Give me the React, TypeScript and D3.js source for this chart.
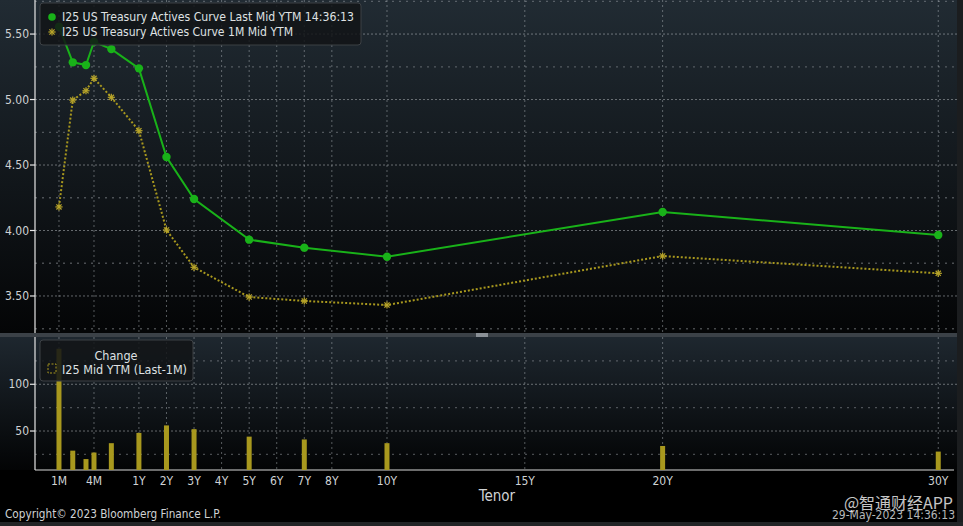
import React from 'react';
import * as d3 from 'd3';

// ---- data ----
const tenors = ['1M', '2M', '3M', '4M', '6M', '1Y', '2Y', '3Y', '5Y', '7Y', '10Y', '20Y', '30Y'];
// position of each tenor on the chart's tenor axis (year-equivalent units)
const tenorAxisPos = [-1.9, -1.4, -0.92, -0.63, 0, 1, 2, 3, 5, 7, 10, 20, 30];
const lastYield = [5.556, 5.284, 5.263, 5.441, 5.385, 5.238, 4.561, 4.24, 3.93, 3.869, 3.8, 4.141, 3.966];
const monthAgoYield = [4.18, 4.996, 5.067, 5.162, 5.017, 4.762, 4.004, 3.719, 3.492, 3.462, 3.431, 3.805, 3.673];
const changeBp = [138, 29, 20, 27, 37, 48, 56, 52, 44, 41, 37, 34, 28];

const xTickLabels = ['1M', '4M', '1Y', '2Y', '3Y', '4Y', '5Y', '6Y', '7Y', '8Y', '10Y', '15Y', '20Y', '30Y'];
const xTickPos = [-1.9, -0.63, 1, 2, 3, 4, 5, 6, 7, 8, 10, 15, 20, 30];
const topTickValues = [3.5, 4.0, 4.5, 5.0, 5.5];
const topMinorGridValues = [3.25, 3.75, 4.25, 4.75, 5.25, 5.75];
const bottomTickValues = [50, 100];
const bottomMinorGridValues = [25, 75, 125];

const legendTop = ['I25 US Treasury Actives Curve Last Mid YTM 14:36:13', 'I25 US Treasury Actives Curve 1M Mid YTM'];
const legendBottomTitle = 'Change';
const legendBottom = 'I25 Mid YTM (Last-1M)';
const xAxisTitle = 'Tenor';
const copyright = 'Copyright\u00A9 2023 Bloomberg Finance L.P.';
const stamp = '29-May-2023 14:36:13';
const watermark = '@智通财经APP';

// ---- layout ----
const W = 963;
const H = 526;
const L = 35;
const R = 957;
const topT = 0;
const topB = 333;
const botT = 337;
const botB = 470;

const GREEN = '#19b219';
const YELLOW = '#a8981e';
const GRID_MAJOR = 'rgba(190,195,200,0.5)';
const GRID_MINOR = 'rgba(170,175,180,0.4)';
const GRID_V = 'rgba(185,190,195,0.45)';
const TXT = '#cfd2d4';
const FONT = '"Liberation Sans Narrow", "DejaVu Sans Condensed", "Liberation Sans", Arial, sans-serif';

export default function App() {
  const x = d3.scaleLinear().domain([-2.77, 30.68]).range([L, R]);
  const yTop = d3.scaleLinear().domain([3.225, 5.76]).range([332, topT]);
  const yBot = d3.scaleLinear().domain([8.3, 149.5]).range([botB, 338]);

  const idx = d3.range(tenors.length);
  const lineLast = d3.line<number>().x((i) => x(tenorAxisPos[i])).y((i) => yTop(lastYield[i]))(idx) || '';
  const lineMonth = d3.line<number>().x((i) => x(tenorAxisPos[i])).y((i) => yTop(monthAgoYield[i]))(idx) || '';

  const star = (cx: number, cy: number, k: number) => {
    const r = 3.6;
    return (
      <g key={'s' + k} stroke="#b8a52a" strokeWidth={1.2}>
        <line x1={cx - r} y1={cy} x2={cx + r} y2={cy} />
        <line x1={cx} y1={cy - r} x2={cx} y2={cy + r} />
        <line x1={cx - r * 0.72} y1={cy - r * 0.72} x2={cx + r * 0.72} y2={cy + r * 0.72} />
        <line x1={cx - r * 0.72} y1={cy + r * 0.72} x2={cx + r * 0.72} y2={cy - r * 0.72} />
      </g>
    );
  };

  return (
    <svg
      width={W}
      height={H}
      style={{ position: 'fixed', left: 0, top: 0, display: 'block' }}
      fontFamily={FONT}
    >
      <defs>
        <linearGradient id="gTop" x1="0" y1="0" x2="0" y2="1">
          <stop offset="0" stopColor="#212b33" />
          <stop offset="1" stopColor="#040506" />
        </linearGradient>
        <linearGradient id="gBot" x1="0" y1="0" x2="0" y2="1">
          <stop offset="0" stopColor="#1e272f" />
          <stop offset="1" stopColor="#030405" />
        </linearGradient>
      </defs>
      <rect x={0} y={0} width={W} height={H} fill="#000" />
      <rect x={0} y={topT} width={R} height={topB - topT} fill="url(#gTop)" />
      <rect x={0} y={botT} width={R} height={botB - botT} fill="url(#gBot)" />
      {/* frame */}
      <rect x={R} y={0} width={W - R} height={H} fill="#1b1d1f" />
      <rect x={0} y={H - 4} width={W} height={4} fill="#222426" />
      <rect x={0} y={topB} width={R} height={botT - topB} fill="#3b4147" />
      <rect x={476} y={topB} width={12} height={botT - topB} fill="#8a9096" />

      {/* top grid */}
      {topMinorGridValues.map((v) => (
        <line key={'tm' + v} x1={L} x2={R} y1={yTop(v)} y2={yTop(v)} stroke={GRID_MINOR} strokeDasharray="2,5" strokeWidth={1.3} />
      ))}
      {topTickValues.map((v) => (
        <line key={'tg' + v} x1={L} x2={R} y1={yTop(v)} y2={yTop(v)} stroke={GRID_MAJOR} strokeDasharray="2,2" />
      ))}
      {xTickPos.map((p) => (
        <line key={'tv' + p} x1={x(p)} x2={x(p)} y1={topT} y2={topB} stroke={GRID_V} strokeDasharray="2,3" />
      ))}
      {/* bottom grid */}
      {bottomMinorGridValues.map((v) => (
        <line key={'bm' + v} x1={L} x2={R} y1={yBot(v)} y2={yBot(v)} stroke={GRID_MINOR} strokeDasharray="2,5" strokeWidth={1.3} />
      ))}
      {bottomTickValues.map((v) => (
        <line key={'bg' + v} x1={L} x2={R} y1={yBot(v)} y2={yBot(v)} stroke={GRID_MAJOR} strokeDasharray="2,2" />
      ))}
      {xTickPos.map((p) => (
        <line key={'bv' + p} x1={x(p)} x2={x(p)} y1={botT} y2={botB} stroke={GRID_V} strokeDasharray="2,3" />
      ))}

      {/* axes */}
      <line x1={L} x2={L} y1={topT} y2={topB} stroke="#e6e6e6" strokeWidth={1.2} />
      <line x1={L} x2={L} y1={botT} y2={botB} stroke="#e6e6e6" strokeWidth={1.2} />
      <line x1={L} x2={R - 3} y1={botB} y2={botB} stroke="#d8d8d8" strokeWidth={1.2} />
      {topTickValues.map((v) => (
        <g key={'tt' + v}>
          <line x1={L - 5} x2={L} y1={yTop(v)} y2={yTop(v)} stroke="#e6e6e6" strokeWidth={1.2} />
          <text x={L - 6} y={yTop(v) + 4} textAnchor="end" fontSize={12} fill={TXT}>
            {v.toFixed(2)}
          </text>
        </g>
      ))}
      {bottomTickValues.map((v) => (
        <g key={'bt' + v}>
          <line x1={L - 5} x2={L} y1={yBot(v)} y2={yBot(v)} stroke="#e6e6e6" strokeWidth={1.2} />
          <text x={L - 6} y={yBot(v) + 4} textAnchor="end" fontSize={12} fill={TXT}>
            {v}
          </text>
        </g>
      ))}
      {xTickLabels.map((t, i) => (
        <text key={'xl' + t} x={x(xTickPos[i])} y={botB + 15} textAnchor="middle" fontSize={12} fill={TXT}>
          {t}
        </text>
      ))}
      <text x={497} y={501} textAnchor="middle" fontSize={15} fill={TXT}>
        {xAxisTitle}
      </text>

      {/* bars */}
      {idx.map((i) => (
        <rect
          key={'b' + i}
          x={x(tenorAxisPos[i]) - 2.5}
          y={yBot(changeBp[i])}
          width={5}
          height={botB - yBot(changeBp[i])}
          fill={YELLOW}
        />
      ))}

      {/* lines */}
      <path d={lineMonth} fill="none" stroke={YELLOW} strokeWidth={2} strokeDasharray="2,2" />
      {idx.map((i) => star(x(tenorAxisPos[i]), yTop(monthAgoYield[i]), i))}
      <path d={lineLast} fill="none" stroke={GREEN} strokeWidth={2} />
      {idx.map((i) => (
        <circle key={'c' + i} cx={x(tenorAxisPos[i])} cy={yTop(lastYield[i])} r={4.2} fill={GREEN} />
      ))}

      {/* top legend */}
      <rect x={40} y={3} width={321} height={42} rx={3} fill="rgba(18,20,22,0.85)" stroke="#3d4145" />
      <circle cx={52} cy={17} r={3.8} fill={GREEN} />
      {star(52, 32, 99)}
      <text x={62} y={21} fontSize={12.5} fill="#dfe1e3" textLength={292} lengthAdjust="spacingAndGlyphs">
        {legendTop[0]}
      </text>
      <text x={62} y={36} fontSize={12.5} fill="#dfe1e3" textLength={231} lengthAdjust="spacingAndGlyphs">
        {legendTop[1]}
      </text>

      {/* bottom legend */}
      <rect x={40} y={340} width={153} height={41} rx={3} fill="rgba(18,20,22,0.85)" stroke="#3d4145" />
      <text x={116} y={360} textAnchor="middle" fontSize={12.5} fill="#dfe1e3">
        {legendBottomTitle}
      </text>
      <rect x={48} y={364} width={8} height={9} fill="none" stroke={YELLOW} strokeDasharray="2,1.5" />
      <text x={62} y={374} fontSize={12.5} fill="#dfe1e3" textLength={125} lengthAdjust="spacingAndGlyphs">
        {legendBottom}
      </text>

      {/* footer */}
      <text x={5} y={518} fontSize={12} fill={TXT} textLength={216} lengthAdjust="spacingAndGlyphs">
        {copyright}
      </text>
      <text x={955} y={519} textAnchor="end" fontSize={12} fill="#b5b8ba">
        {stamp}
      </text>
      <text
        x={953}
        y={509}
        textAnchor="end"
        fontSize={16}
        fill="rgba(235,235,235,0.85)"
        fontFamily='"Noto Sans CJK SC", sans-serif'
      >
        {watermark}
      </text>
    </svg>
  );
}
